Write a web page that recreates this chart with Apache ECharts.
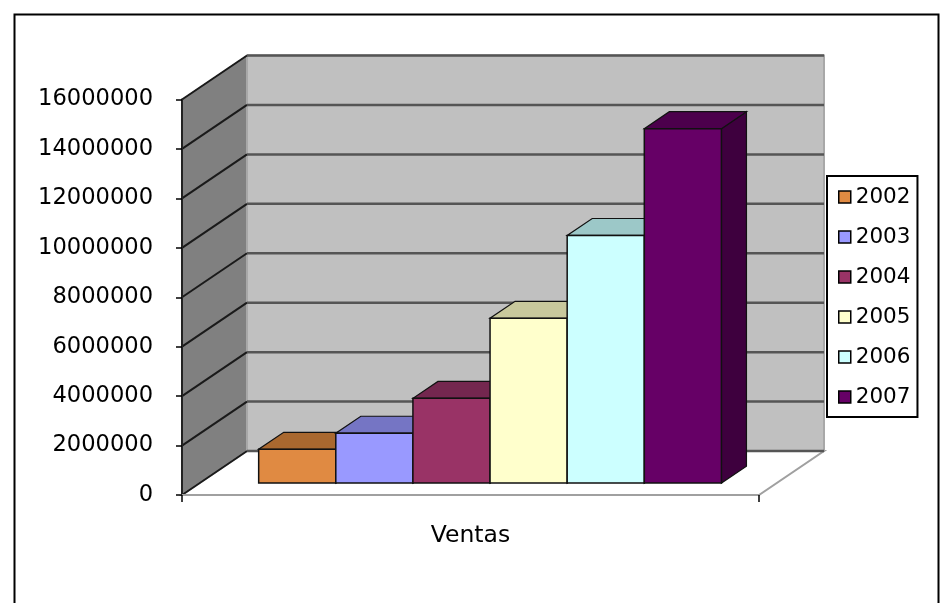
<!DOCTYPE html>
<html><head><meta charset="utf-8">
<script src="https://cdn.jsdelivr.net/npm/echarts@6/dist/echarts.min.js"></script>
<style>html,body{margin:0;padding:0;background:#fff}#c{width:949px;height:603px}</style>
</head><body><div id="c"></div>
<script>
// ---- data ----
const categories = ['Ventas'];
const years = ['2002', '2003', '2004', '2005', '2006', '2007'];
const ventas = [1370000, 2020000, 3430000, 6670000, 10020000, 14340000];
const yTicks = [0, 2000000, 4000000, 6000000, 8000000, 10000000, 12000000, 14000000, 16000000];

// ---- styles ----
const frontColors = ['#E08A42', '#9999FF', '#993366', '#FFFFCC', '#CCFFFF', '#660066'];
const topColors   = ['#A9682F', '#7575C4', '#74274F', '#C8C89C', '#9CC8C8', '#4C004C'];
const sideColors  = ['#8E5526', '#6060A8', '#5E1F40', '#A8A882', '#82A8A8', '#3E003E'];
const WALL = { dx: 65, dy: 44 };
const BAR_FRONT = 0.27, BAR_BACK = 0.655, GROUP = 0.802;
const FONT = 'DejaVu Sans';

function bandInfo(api) {
  const b = api.coord([0, 0]);
  const t = api.coord([0, yTicks[yTicks.length - 1]]);
  const band = api.size([1, 0])[0];
  return { L: b[0] - band / 2, R: b[0] + band / 2, C: b[0], B: b[1], T: t[1], band: band };
}

const wallSeries = {
  type: 'custom', name: 'walls', silent: true, z: 1,
  data: [[0, yTicks[yTicks.length - 1]]],
  renderItem: function (p, api) {
    const g = bandInfo(api), dx = WALL.dx, dy = WALL.dy;
    return { type: 'group', children: [
      { type: 'polygon', shape: { points: [[g.L, g.B], [g.L, g.T], [g.L + dx, g.T - dy], [g.L + dx, g.B - dy]] },
        style: { fill: '#808080', stroke: '#707070', lineWidth: 1 } },
      { type: 'rect', shape: { x: g.L + dx, y: g.T - dy, width: g.band, height: g.B - g.T },
        style: { fill: '#C0C0C0', stroke: '#A8A8A8', lineWidth: 2 } },
      { type: 'polygon', shape: { points: [[g.L, g.B], [g.R, g.B], [g.R + dx, g.B - dy], [g.L + dx, g.B - dy]] },
        style: { fill: '#FFFFFF', stroke: '#A0A0A0', lineWidth: 2 } }
    ] };
  }
};

const gridSeries = {
  type: 'custom', name: 'gridlines', silent: true, z: 1,
  data: yTicks.map(v => [0, v]),
  renderItem: function (p, api) {
    const g = bandInfo(api), dx = WALL.dx, dy = WALL.dy;
    const y = api.coord([0, api.value(1)])[1];
    return { type: 'group', children: [
      { type: 'polyline', shape: { points: [[g.L, y], [g.L + dx, y - dy]] }, style: { stroke: '#1A1A1A', lineWidth: 2, fill: null } },
      { type: 'polyline', shape: { points: [[g.L + dx, y - dy], [g.R + dx, y - dy]] }, style: { stroke: '#555555', lineWidth: 2.5, fill: null } }
    ] };
  }
};

function barSeries(i) {
  return {
    type: 'custom', name: years[i], z: 2,
    itemStyle: { color: frontColors[i], borderColor: '#000', borderWidth: 1.5 },
    data: [[0, ventas[i]]],
    renderItem: function (p, api) {
      const g = bandInfo(api);
      const v = api.value(1);
      const top = api.coord([0, v]);
      const gw = g.band * GROUP, bw = gw / years.length;
      const fx = WALL.dx * BAR_FRONT, fy = WALL.dy * BAR_FRONT;
      const bx = WALL.dx * (BAR_BACK - BAR_FRONT), by = WALL.dy * (BAR_BACK - BAR_FRONT);
      const x0 = g.C - gw / 2 + i * bw + fx + 2, x1 = x0 + bw;
      const yb = g.B - fy, yt = top[1] - fy;
      return { type: 'group', children: [
        { type: 'polygon', shape: { points: [[x1, yt], [x1, yb], [x1 + bx, yb - by], [x1 + bx, yt - by]] },
          style: { fill: sideColors[i], stroke: '#111', lineWidth: 1.2 } },
        { type: 'polygon', shape: { points: [[x0, yt], [x1, yt], [x1 + bx, yt - by], [x0 + bx, yt - by]] },
          style: { fill: topColors[i], stroke: '#111', lineWidth: 1.2 } },
        { type: 'rect', shape: { x: x0, y: yt, width: bw, height: yb - yt },
          style: { fill: frontColors[i], stroke: '#111', lineWidth: 1.5 } }
      ] };
    }
  };
}

const chart = echarts.init(document.getElementById('c'), null, { renderer: 'canvas' });
chart.setOption({
  animation: false,
  backgroundColor: '#fff',
  textStyle: { fontFamily: FONT, color: '#000' },
  graphic: [{
    type: 'rect', left: 12, top: 12, z: 100, silent: true,
    shape: { width: 924, height: 620 },
    style: { fill: null, stroke: '#000', lineWidth: 2 }
  }],
  grid: { left: 182, right: 190, top: 99.5, bottom: 108, containLabel: false },
  legend: {
    data: years, orient: 'vertical', left: 827, top: 176,
    padding: [10, 7, 9, 11], itemWidth: 12, itemHeight: 12, itemGap: 18, itemTextGap: 10,
    icon: 'rect', backgroundColor: '#fff', borderColor: '#000', borderWidth: 2,
    itemStyle: { borderColor: '#000', borderWidth: 1.5 },
    textStyle: { fontFamily: FONT, fontSize: 21.5, lineHeight: 22, color: '#000' }
  },
  xAxis: {
    type: 'category', data: categories, boundaryGap: true, z: 5,
    axisLine: { show: true, lineStyle: { color: '#A0A0A0', width: 2 } },
    axisTick: { show: true, length: 7, lineStyle: { color: '#000', width: 1.5 } },
    axisLabel: { margin: 29, fontSize: 23.5, fontFamily: FONT, color: '#000' },
    splitLine: { show: false }
  },
  yAxis: {
    type: 'value', min: 0, max: yTicks[yTicks.length - 1], interval: yTicks[1] - yTicks[0], z: 5,
    axisLine: { show: true, lineStyle: { color: '#222', width: 2 } },
    axisTick: { show: true, length: 6, lineStyle: { color: '#000', width: 1.5 } },
    axisLabel: { margin: 29, fontSize: 22.6, fontFamily: FONT, color: '#000', padding: [6, 0, 0, 0], formatter: v => String(v) },
    splitLine: { show: false }
  },
  series: [wallSeries, gridSeries].concat(years.map((y, i) => barSeries(i)))
});
</script>
</body></html>
